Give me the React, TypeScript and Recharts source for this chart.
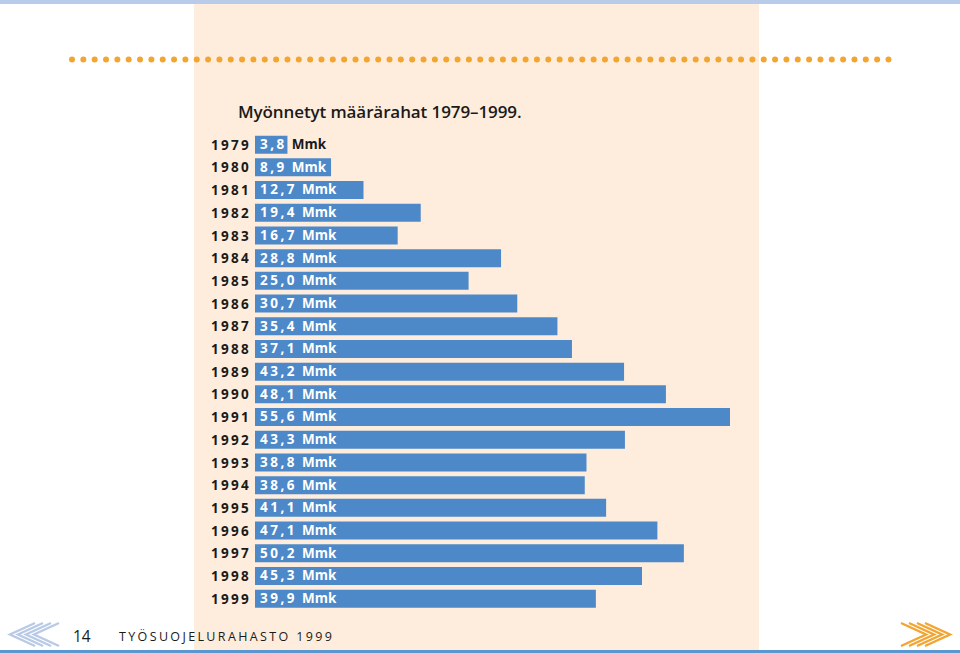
import React from 'react';
import { BarChart, Bar, XAxis, YAxis, LabelList } from 'recharts';

// Values (million marks)
const years = ['1979', '1980', '1981', '1982', '1983', '1984', '1985', '1986', '1987', '1988', '1989', '1990', '1991', '1992', '1993', '1994', '1995', '1996', '1997', '1998', '1999'];
const amounts = [3.8, 8.9, 12.7, 19.4, 16.7, 28.8, 25.0, 30.7, 35.4, 37.1, 43.2, 48.1, 55.6, 43.3, 38.8, 38.6, 41.1, 47.1, 50.2, 45.3, 39.9];

const data = years.map((year, i) => ({ year, amount: amounts[i] }));

const FONT = '"Open Sans", sans-serif';
const UNIT = 'Mmk';

const BarLabel = (props: any) => {
    const { x, y, width, height, value } = props;
    const short = width < 40; // the unit doesn't fit in the bar, so it goes dark
    return (
        <text x={x + 5} y={y + height / 2 + 4.4} fontFamily={FONT} fontSize={13.5} fontWeight={700} fill="#fff">
            <tspan letterSpacing={2.5}>{Number(value).toFixed(1).replace('.', ',')}</tspan>
            <tspan dx={5} fill={short ? '#1a1a1a' : '#fff'}>{UNIT}</tspan>
        </text>
    );
};

const Chevrons = ({ x, dir, color }: { x: number; dir: number; color: string }) => (
    <g fill="none" stroke={color} strokeWidth={2.4}>
        {[0, 1, 2, 3].map((i) => {
            const tip = x + dir * i * 8;
            const back = tip + dir * -25;
            return <polyline key={i} points={`${back},623 ${tip},634.5 ${back},646`} />;
        })}
    </g>
);

const App: React.FC = () => {
    return (
        <div style={{ position: 'absolute', left: 0, top: 0, width: 960, height: 653, overflow: 'hidden', background: '#fff' }}>
            <div style={{ position: 'absolute', left: 194, top: 4, width: 565, height: 646, background: '#feeddc' }} />
            <div style={{ position: 'absolute', left: 0, top: 0, width: 960, height: 4, background: '#b8cbe8' }} />
            <div style={{ position: 'absolute', left: 0, top: 650, width: 960, height: 3, background: '#5a97d0' }} />

            <svg width={960} height={653} style={{ position: 'absolute', left: 0, top: 0 }}>
                <line x1={72} y1={59.5} x2={889} y2={59.5} stroke="#f2a531" strokeWidth={6} strokeLinecap="round" strokeDasharray="0 11.34" />
                <Chevrons x={34} dir={-1} color="#b9cae6" />
                <Chevrons x={926} dir={1} color="#f2a531" />
            </svg>

            <div style={{ position: 'absolute', left: 238, top: 100, fontFamily: FONT, fontSize: 17, fontWeight: 600, color: '#1a1a1a', whiteSpace: 'nowrap', letterSpacing: -0.1 }}>
                Myönnetyt määrärahat 1979–1999.
            </div>

            <div style={{ position: 'absolute', left: 0, top: 0 }}>
                <BarChart width={960} height={653} data={data} layout="vertical" margin={{ top: 133.65, right: 230, bottom: 42.65, left: 195 }}>
                    <XAxis type="number" hide domain={[0, 55.6]} />
                    <YAxis
                        type="category"
                        dataKey="year"
                        width={60}
                        interval={0}
                        axisLine={false}
                        tickLine={false}
                        tickSize={4}
                        tickMargin={0}
                        tick={{ fontFamily: FONT, fontSize: 13.5, fontWeight: 700, fill: '#1a1a1a', letterSpacing: 2.3 }}
                    />
                    <Bar dataKey="amount" fill="#4d88c9" barSize={18} isAnimationActive={false}>
                        <LabelList dataKey="amount" content={BarLabel} />
                    </Bar>
                </BarChart>
            </div>

            <div style={{ position: 'absolute', left: 73, top: 626, fontFamily: FONT, fontSize: 15.5, color: '#1a1a1a', lineHeight: '20px' }}>14</div>
            <div style={{ position: 'absolute', left: 119, top: 628, fontFamily: FONT, fontSize: 12.5, color: '#1a1a1a', lineHeight: '18px', letterSpacing: 2.36, whiteSpace: 'nowrap' }}>
                TYÖSUOJELURAHASTO 1999
            </div>
        </div>
    );
};

export default App;
